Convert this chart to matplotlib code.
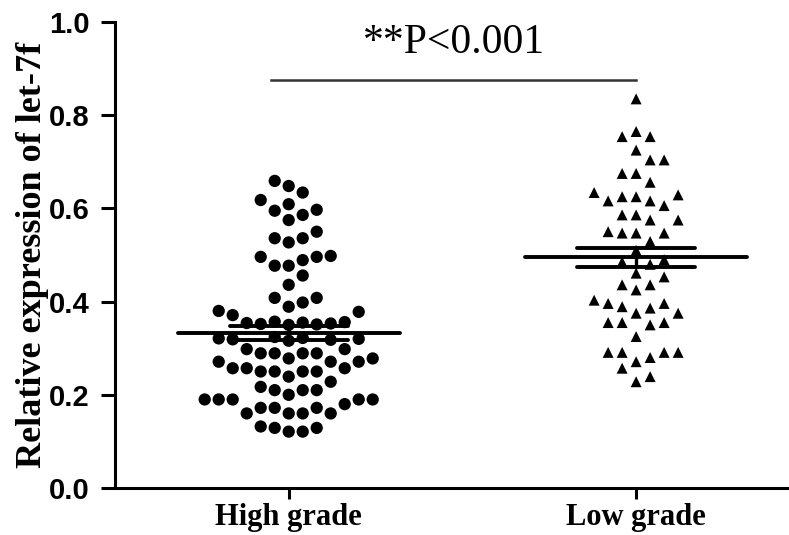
import numpy as np
import matplotlib.pyplot as plt

groups = ["High grade", "Low grade"]

high_grade = [
    0.659, 0.648, 0.634, 0.618, 0.609, 0.597, 0.595, 0.586, 0.575, 0.550,
    0.536, 0.536, 0.527, 0.496, 0.496, 0.498, 0.489, 0.477, 0.477, 0.456,
    0.436, 0.408, 0.408, 0.398, 0.389, 0.380, 0.378, 0.371,
    0.356, 0.354, 0.352, 0.350, 0.355, 0.351, 0.353, 0.357,
    0.322, 0.320, 0.318, 0.316, 0.324, 0.319, 0.321,
    0.298, 0.298, 0.289, 0.289, 0.289, 0.289, 0.278, 0.278, 0.271, 0.271,
    0.271, 0.257, 0.257, 0.257, 0.250, 0.250, 0.250, 0.250, 0.239, 0.228,
    0.217, 0.210, 0.210, 0.210, 0.200, 0.190, 0.190, 0.190, 0.190, 0.190,
    0.180, 0.172, 0.172, 0.172, 0.160, 0.160, 0.160, 0.160, 0.132, 0.129,
    0.129, 0.121, 0.121,
]

low_grade = [
    0.835, 0.765, 0.754, 0.754, 0.725, 0.704, 0.704, 0.675, 0.675, 0.656,
    0.634, 0.625, 0.616, 0.606, 0.616, 0.625, 0.629, 0.586, 0.575, 0.575,
    0.586, 0.547, 0.550, 0.547, 0.547, 0.529, 0.510, 0.490, 0.480, 0.485,
    0.461, 0.453, 0.436, 0.436, 0.425, 0.396, 0.386, 0.375, 0.375, 0.389,
    0.396, 0.403, 0.355, 0.355, 0.350, 0.355, 0.325, 0.291, 0.291, 0.280,
    0.271, 0.291, 0.291, 0.257, 0.228, 0.239,
]

markers = ["o", "^"]
p_text = "**P<0.001"

SERIF = ["Liberation Serif", "DejaVu Serif"]
SANS = ["Liberation Sans", "DejaVu Sans"]


def swarm(values, px_per_x, px_per_y, step=14.0, gap=15.0):
    """column-based dot layout, like a scatter dot plot"""
    values = np.asarray(values)
    order = np.argsort(values)
    last = {}
    offs = np.zeros(len(values))
    cols = [0]
    for k in range(1, 14):
        cols += [k, -k]
    for i in order:
        y = values[i] * px_per_y
        for c in cols:
            if c not in last or y - last[c] >= gap:
                last[c] = y
                offs[i] = c * step / px_per_x
                break
    return offs


fig = plt.figure(figsize=(7.89, 5.35), dpi=100)
ax = fig.add_axes([115 / 789, 47 / 535, 674 / 789, 466 / 535])
ax.set_xlim(-0.5, 1.44)
ax.set_ylim(0, 1.0)

px_x = 674 / 1.94
px_y = 466 / 1.0

for pos, vals, m in zip(range(2), [high_grade, low_grade], markers):
    vals = np.asarray(vals)
    offs = swarm(vals, px_x, px_y)
    ax.scatter(pos + offs, vals, marker=m, s=78 if m == "o" else 62,
               color="black", edgecolor="none", zorder=3, clip_on=False)
    mean = vals.mean()
    sem = vals.std(ddof=1) / np.sqrt(len(vals))
    ax.plot([pos - 0.32, pos + 0.32], [mean, mean], color="black", lw=2.8,
            solid_capstyle="round", zorder=4)
    for yv in (mean - sem, mean + sem):
        ax.plot([pos - 0.17, pos + 0.17], [yv, yv], color="black", lw=2.8,
                solid_capstyle="round", zorder=4)
    ax.plot([pos, pos], [mean - sem, mean + sem], color="black", lw=2.4, zorder=4)

# significance bar
ax.plot([-0.05, 1.0], [0.876, 0.876], color="#333333", lw=1.8, clip_on=False)
ax.text(0.475, 0.933, p_text, ha="center", va="baseline", fontsize=30,
        family=SERIF, clip_on=False)

for s in ["top", "right"]:
    ax.spines[s].set_visible(False)
ax.spines["left"].set_linewidth(2.2)
ax.spines["bottom"].set_linewidth(2.2)

ax.set_yticks(np.arange(0, 1.01, 0.2))
ax.set_yticklabels([f"{v:.1f}" for v in np.arange(0, 1.01, 0.2)],
                   family=SANS, fontweight="bold", fontsize=21)
ax.set_xticks(range(2))
ax.set_xticklabels(groups, family=SERIF, fontweight="bold", fontsize=22)
ax.tick_params(axis="y", length=10, width=2.2, pad=8)
ax.tick_params(axis="x", length=8, width=2.2, pad=3)

ax.set_ylabel("Relative expression of let-7f", family=SERIF,
              fontweight="bold", fontsize=26, labelpad=0)

fig.savefig("out.png", dpi=100, facecolor="white")
